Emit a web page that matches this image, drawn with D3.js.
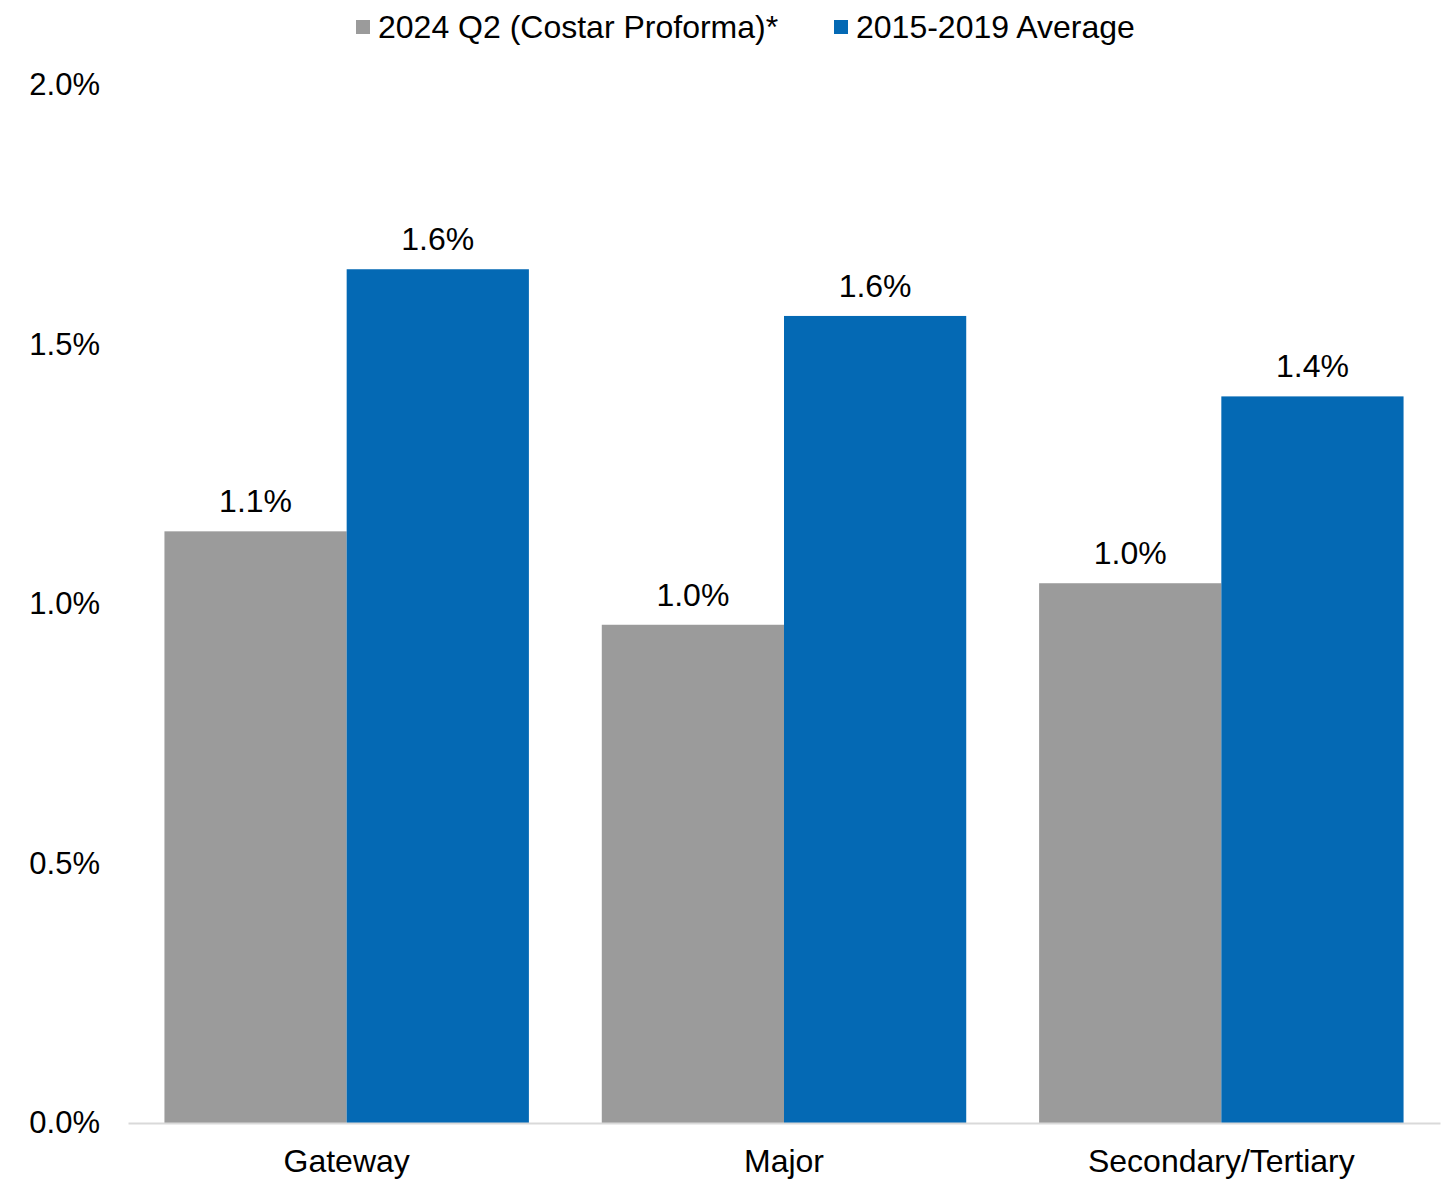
<!DOCTYPE html>
<html>
<head>
<meta charset="utf-8">
<script src="https://cdn.jsdelivr.net/npm/d3@7"></script>
<style>
  html, body { margin: 0; padding: 0; background: #fff; }
  svg { display: block; font-family: "Liberation Sans", Arial, sans-serif; }
</style>
</head>
<body>
<svg id="chart" width="1454" height="1180"></svg>
<script>
const categories = ["Gateway", "Major", "Secondary/Tertiary"];
const seriesNames = ["2024 Q2 (Costar Proforma)*", "2015-2019 Average"];
const series2024 = [1.14, 0.96, 1.04];
const seriesAvg = [1.645, 1.555, 1.40];
const yTicks = [0, 0.5, 1.0, 1.5, 2.0];
const colors = ["#9b9b9b", "#0469b4"];

(function () {
const svg = d3.select("#chart");
const mLeft = 128, mRight = 1440, mTop = 85, mBottom = 1123;
const fontSize = 32;
const tickFont = 31;

const x0 = d3.scaleBand().domain(categories).range([mLeft, mRight]).padding(0);
const x1 = d3.scaleBand().domain(seriesNames).range([0, x0.bandwidth()]).paddingInner(0).paddingOuter(0.2);
const y = d3.scaleLinear().domain([0, 2.0]).range([mBottom, mTop]);

const data = categories.map((c, i) => ({
  cat: c,
  vals: [
    { s: seriesNames[0], v: series2024[i], color: colors[0] },
    { s: seriesNames[1], v: seriesAvg[i], color: colors[1] }
  ]
}));

// Y axis labels
const yAxis = d3.axisLeft(y).tickValues(yTicks).tickFormat(d => d3.format(".1f")(d) + "%").tickSize(0).tickPadding(0);
const gy = svg.append("g").attr("transform", `translate(100,0)`).call(yAxis);
gy.select(".domain").remove();
gy.selectAll("text").attr("font-size", tickFont).attr("fill", "#000").attr("font-family", "Liberation Sans, Arial, sans-serif");

// Bars
const groups = svg.selectAll("g.grp").data(data).enter().append("g")
  .attr("class", "grp").attr("transform", d => `translate(${x0(d.cat)},0)`);
groups.selectAll("rect").data(d => d.vals).enter().append("rect")
  .attr("x", d => x1(d.s)).attr("width", x1.bandwidth())
  .attr("y", d => y(d.v)).attr("height", d => y(0) - y(d.v))
  .attr("fill", d => d.color);
groups.selectAll("text.lbl").data(d => d.vals).enter().append("text")
  .attr("class", "lbl")
  .attr("x", d => x1(d.s) + x1.bandwidth() / 2)
  .attr("y", d => y(d.v) - 19)
  .attr("text-anchor", "middle").attr("font-size", fontSize).attr("fill", "#000")
  .text(d => d3.format(".1f")(d.v) + "%");

// X axis
const xAxis = d3.axisBottom(x0).tickSize(0).tickPadding(0);
const gx = svg.append("g").attr("transform", `translate(0,${mBottom})`).call(xAxis);
gx.select(".domain").attr("stroke", "#d9d9d9").attr("stroke-width", 2);
gx.selectAll("text").attr("font-size", fontSize).attr("fill", "#000")
  .attr("font-family", "Liberation Sans, Arial, sans-serif").attr("dy", null).attr("y", 49);

// Legend
const legendX = [356, 834];
const leg = svg.selectAll("g.leg").data(seriesNames).enter().append("g")
  .attr("class", "leg").attr("transform", (d, i) => `translate(${legendX[i]},0)`);
leg.append("rect").attr("x", 0).attr("y", 20).attr("width", 14).attr("height", 14)
  .attr("fill", (d, i) => colors[i]);
leg.append("text").attr("x", 22).attr("y", 38).attr("font-size", fontSize).attr("fill", "#000")
  .text(d => d);
})();
</script>
</body>
</html>
